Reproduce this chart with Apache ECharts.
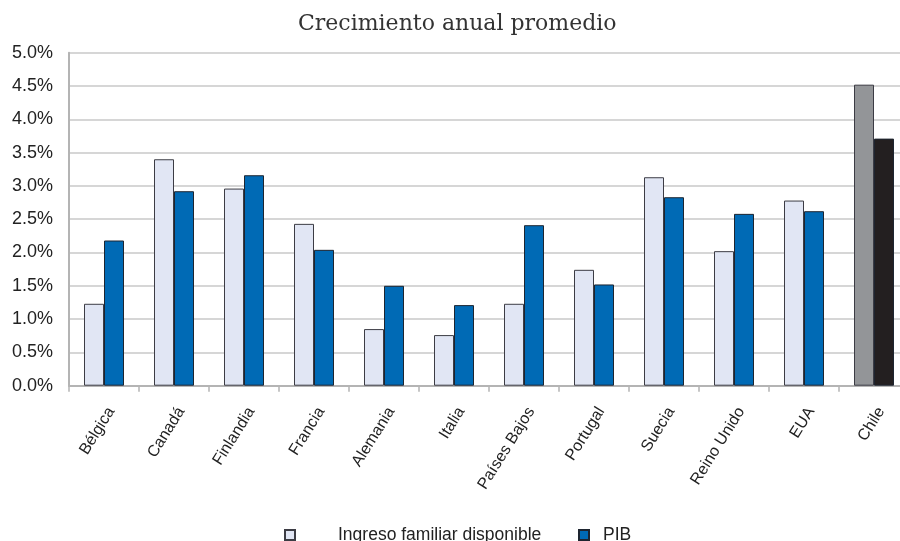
<!DOCTYPE html>
<html>
<head>
<meta charset="utf-8">
<script src="https://cdn.jsdelivr.net/npm/echarts@6/dist/echarts.min.js"></script>
<style>
  html, body { margin: 0; padding: 0; background: #fff; }
  #chart { width: 900px; height: 541px; }
</style>
</head>
<body>
<div id="chart"></div>
<script>
// Países y crecimiento anual promedio (%)
const paises = ['Bélgica', 'Canadá', 'Finlandia', 'Francia', 'Alemania', 'Italia',
  'Países Bajos', 'Portugal', 'Suecia', 'Reino Unido', 'EUA', 'Chile'];
const ingresoFamiliar = [1.23, 3.40, 2.96, 2.43, 0.85, 0.76, 1.23, 1.74, 3.13, 2.02, 2.78, 4.52];
const pib = [2.18, 2.92, 3.16, 2.04, 1.50, 1.21, 2.41, 1.52, 2.83, 2.58, 2.62, 3.71];
const yTicks = { min: 0, max: 5, interval: 0.5 };

const colIngreso = '#e1e6f4';
const colPib = '#006ab5';
const colChileIngreso = '#939598';
const colChilePib = '#231f20';
const fontSans = "'Liberation Sans', Arial, sans-serif";

function toData(values, chileColor) {
  return values.map((v, i) => paises[i] === 'Chile'
    ? { value: v, itemStyle: { color: chileColor } }
    : v);
}

const chart = echarts.init(document.getElementById('chart'), null, { renderer: 'canvas' });
chart.setOption({
  animation: false,
  backgroundColor: '#ffffff',
  title: {
    text: 'Crecimiento anual promedio',
    left: 298,
    top: 13,
    padding: 0,
    textStyle: { fontFamily: "'DejaVu Serif', serif", fontWeight: 'normal', fontSize: 22, color: '#333333' }
  },
  legend: [
    {
      data: ['Ingreso familiar disponible'],
      left: 284, top: 526, padding: 0,
      itemWidth: 10, itemHeight: 10, icon: 'rect',
      textStyle: { fontFamily: fontSans, fontSize: 17.5, color: '#222', padding: [0, 0, 0, 38] }
    },
    {
      data: ['PIB'],
      left: 578, top: 526, padding: 0,
      itemWidth: 10, itemHeight: 10, icon: 'rect',
      textStyle: { fontFamily: fontSans, fontSize: 17.5, color: '#222', padding: [0, 0, 0, 9] }
    }
  ],
  grid: { left: 69, top: 52.7, width: 840, height: 333, containLabel: false, outerBoundsMode: 'none' },
  xAxis: {
    type: 'category',
    data: paises,
    axisLine: { lineStyle: { color: '#b4b4b4', width: 2 } },
    axisTick: { show: true, length: 6, lineStyle: { color: '#b4b4b4', width: 1.5 } },
    axisLabel: {
      rotate: 58, fontFamily: fontSans, fontSize: 16, color: '#222',
      margin: 18.5, verticalAlign: 'top', lineHeight: 17, interval: 0
    }
  },
  yAxis: {
    type: 'value',
    min: yTicks.min, max: yTicks.max, interval: yTicks.interval,
    axisLine: { show: true, lineStyle: { color: '#b4b4b4', width: 2 } },
    axisTick: { show: false },
    splitLine: { lineStyle: { color: '#c8c8c8', width: 1.5 } },
    axisLabel: {
      fontFamily: fontSans, fontSize: 18, color: '#222', margin: 16,
      formatter: v => v.toFixed(1) + '%'
    }
  },
  series: [
    {
      name: 'Ingreso familiar disponible',
      type: 'bar',
      barWidth: 20,
      barGap: '0%',
      data: toData(ingresoFamiliar, colChileIngreso),
      itemStyle: { color: colIngreso, borderColor: '#3c3c44', borderWidth: 1 }
    },
    {
      name: 'PIB',
      type: 'bar',
      barWidth: 20,
      barGap: '0%',
      data: toData(pib, colChilePib),
      itemStyle: { color: colPib, borderColor: '#1e2530', borderWidth: 1 }
    }
  ]
});
</script>
</body>
</html>
